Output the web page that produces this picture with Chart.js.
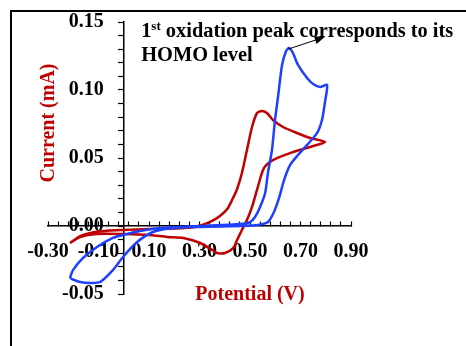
<!DOCTYPE html>
<html>
<head>
<meta charset="utf-8">
<script src="https://cdn.jsdelivr.net/npm/chart.js@4"></script>
<style>
  html, body { margin: 0; padding: 0; background: #fff; }
</style>
</head>
<body>
<canvas id="cvChart" width="466" height="346"></canvas>
<script>
// values: potential in V, current in mA
const bluePotential = [-0.213, -0.201, -0.161, -0.106, -0.043, -0.003, 0.064, 0.144, 0.302, 0.461, 0.500, 0.520, 0.540, 0.560, 0.571, 0.587, 0.599, 0.611, 0.627, 0.643, 0.655, 0.670, 0.690, 0.726, 0.750, 0.777, 0.805,
  0.797, 0.785, 0.766, 0.726, 0.690, 0.659, 0.635, 0.615, 0.595, 0.571, 0.531, 0.461, 0.302, 0.196, 0.116, 0.053, -0.003, -0.043, -0.094, -0.133, -0.173, -0.205, -0.213];
const blueCurrent = [-0.0382, -0.0324, -0.0235, -0.0154, -0.0088, -0.0066, -0.0037, -0.0015, 0.0000, 0.0015, 0.0029, 0.0066, 0.0140, 0.0243, 0.0390, 0.0559, 0.0779, 0.0949, 0.1184, 0.1287, 0.1309, 0.1272, 0.1184, 0.1088, 0.1044, 0.1022, 0.1037,
  0.0912, 0.0779, 0.0684, 0.0596, 0.0522, 0.0449, 0.0338, 0.0206, 0.0103, 0.0029, 0.0007, 0.0000, -0.0007, -0.0015, -0.0044, -0.0118, -0.0228, -0.0324, -0.0412, -0.0419, -0.0412, -0.0390, -0.0382];

const redPotential = [-0.213, -0.173, -0.114, -0.054, -0.003, 0.104, 0.203, 0.282, 0.322, 0.350, 0.381, 0.410, 0.429, 0.449, 0.468, 0.488, 0.508, 0.528, 0.547, 0.567, 0.591, 0.631, 0.686, 0.738, 0.797,
  0.738, 0.671, 0.591, 0.555, 0.530, 0.508, 0.488, 0.468, 0.449, 0.433, 0.401, 0.370, 0.350, 0.303, 0.236, 0.172, 0.104, -0.003, -0.106, -0.173, -0.213];
const redCurrent = [-0.0125, -0.0074, -0.0044, -0.0033, -0.0029, -0.0022, -0.0018, -0.0007, 0.0015, 0.0037, 0.0074, 0.0125, 0.0191, 0.0272, 0.0390, 0.0559, 0.0728, 0.0831, 0.0846, 0.0831, 0.0779, 0.0728, 0.0684, 0.0647, 0.0618,
  0.0581, 0.0544, 0.0485, 0.0425, 0.0280, 0.0140, 0.0044, -0.0029, -0.0103, -0.0162, -0.0199, -0.0199, -0.0176, -0.0125, -0.0088, -0.0081, -0.0066, -0.0059, -0.0059, -0.0081, -0.0125];

const xMajorTicks = [-0.30, -0.10, 0.10, 0.30, 0.50, 0.70, 0.90];
const yMajorTicks = [-0.05, 0.00, 0.05, 0.10, 0.15];

const xTitle = 'Potential (V)';
const yTitle = 'Current (mA)';
const noteLine1 = ['1', 'st', ' oxidation peak corresponds to its'];
const noteLine2 = 'HOMO level';
const noteAnchor = [0.069, 0.1390];   // data point of the first line's baseline start
const arrowFrom = [0.652, 0.1301];
const arrowTo = [0.796, 0.1390];

const red = '#C00000';
const blue = '#1E40FF';
const serif = '"Liberation Serif", "Times New Roman", serif';

function toPoints(xs, ys) {
    return xs.map((x, i) => ({ x: x, y: ys[i] }));
}

function isMajor(list, v) {
    return list.some(t => Math.abs(t - v) < 1e-6);
}

// frame, titles, note and arrow
const decorPlugin = {
    id: 'decor',
    beforeDraw(chart) {
        const ctx = chart.ctx;
        ctx.save();
        ctx.fillStyle = '#fff';
        ctx.fillRect(0, 0, chart.width, chart.height);
        ctx.strokeStyle = '#000';
        ctx.lineWidth = 2;
        ctx.beginPath();
        ctx.moveTo(11, chart.height);
        ctx.lineTo(11, 11);
        ctx.lineTo(chart.width, 11);
        ctx.stroke();
        ctx.restore();
    },
    afterDraw(chart) {
        const ctx = chart.ctx;
        const sx = chart.scales.x;
        const sy = chart.scales.y;
        ctx.save();

        // axis titles
        ctx.fillStyle = red;
        ctx.font = 'bold 20px ' + serif;
        ctx.textAlign = 'center';
        ctx.textBaseline = 'alphabetic';
        ctx.fillText(xTitle, 250, 300);
        ctx.save();
        ctx.translate(54, 123);
        ctx.rotate(-Math.PI / 2);
        ctx.fillText(yTitle, 0, 0);
        ctx.restore();

        // note text
        ctx.fillStyle = '#000';
        ctx.textAlign = 'left';
        let nx = sx.getPixelForValue(noteAnchor[0]);
        const ny = sy.getPixelForValue(noteAnchor[1]);
        ctx.font = 'bold 20.4px ' + serif;
        ctx.fillText(noteLine1[0], nx, ny);
        nx += ctx.measureText(noteLine1[0]).width;
        ctx.font = 'bold 13px ' + serif;
        ctx.fillText(noteLine1[1], nx, ny - 7);
        nx += ctx.measureText(noteLine1[1]).width;
        ctx.font = 'bold 20.4px ' + serif;
        ctx.fillText(noteLine1[2], nx, ny);
        ctx.fillText(noteLine2, sx.getPixelForValue(noteAnchor[0]), ny + 24);

        // arrow
        const x1 = sx.getPixelForValue(arrowFrom[0]), y1 = sy.getPixelForValue(arrowFrom[1]);
        const x2 = sx.getPixelForValue(arrowTo[0]), y2 = sy.getPixelForValue(arrowTo[1]);
        const ang = Math.atan2(y2 - y1, x2 - x1);
        ctx.strokeStyle = '#000';
        ctx.lineWidth = 1;
        ctx.beginPath();
        ctx.moveTo(x1, y1);
        ctx.lineTo(x2 - 8 * Math.cos(ang), y2 - 8 * Math.sin(ang));
        ctx.stroke();
        ctx.beginPath();
        ctx.moveTo(x2, y2);
        ctx.lineTo(x2 - 10 * Math.cos(ang) + 4 * Math.sin(ang), y2 - 10 * Math.sin(ang) - 4 * Math.cos(ang));
        ctx.lineTo(x2 - 10 * Math.cos(ang) - 4 * Math.sin(ang), y2 - 10 * Math.sin(ang) + 4 * Math.cos(ang));
        ctx.closePath();
        ctx.fill();
        ctx.restore();
    }
};

const tickFont = { family: serif, size: 20, weight: 'bold' };

new Chart(document.getElementById('cvChart'), {
    type: 'scatter',
    data: {
        datasets: [
            {
                label: 'blue',
                data: toPoints(bluePotential, blueCurrent),
                showLine: true,
                borderColor: blue,
                borderWidth: 2.5,
                pointRadius: 0,
                tension: 0.25,
                fill: false
            },
            {
                label: 'red',
                data: toPoints(redPotential, redCurrent),
                showLine: true,
                borderColor: red,
                borderWidth: 2.5,
                pointRadius: 0,
                tension: 0.25,
                fill: false
            }
        ]
    },
    options: {
        responsive: false,
        animation: false,
        devicePixelRatio: 1,
        layout: { padding: { left: 48, right: 115, top: 22, bottom: 52 } },
        plugins: { legend: { display: false }, tooltip: { enabled: false } },
        scales: {
            x: {
                type: 'linear',
                min: -0.3,
                max: 0.9,
                position: { y: 0 },
                border: { display: true, color: '#000', width: 1.5 },
                grid: { display: true, drawOnChartArea: false, drawTicks: true, tickLength: -5, tickColor: '#000', tickWidth: 1.2 },
                ticks: {
                    stepSize: 0.04,
                    autoSkip: false,
                    maxRotation: 0,
                    minRotation: 0,
                    padding: 19,
                    color: '#000',
                    font: tickFont,
                    callback: (v) => isMajor(xMajorTicks, v) ? v.toFixed(2) : ''
                }
            },
            y: {
                type: 'linear',
                min: -0.05,
                max: 0.15,
                position: { x: 0 },
                border: { display: true, color: '#000', width: 1.5 },
                grid: { display: true, drawOnChartArea: false, drawTicks: true, tickLength: 5, tickColor: '#000', tickWidth: 1.2 },
                ticks: {
                    stepSize: 0.01,
                    autoSkip: false,
                    color: '#000',
                    font: tickFont,
                    callback: (v) => isMajor(yMajorTicks, v) ? v.toFixed(2) + '    ' : ''
                }
            }
        }
    },
    plugins: [decorPlugin]
});
</script>
</body>
</html>
